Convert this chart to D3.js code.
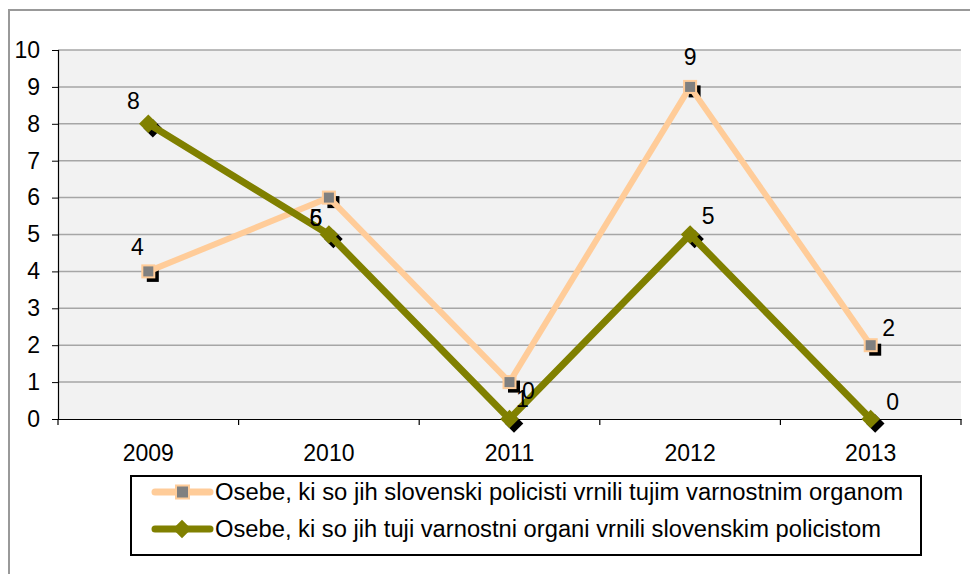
<!DOCTYPE html>
<html><head><meta charset="utf-8">
<script src="https://cdn.jsdelivr.net/npm/d3@7"></script>
<style>body{margin:0;background:#fff}svg{display:block;font-family:"Liberation Sans",Arial,sans-serif}</style>
</head><body><svg id="c" width="970" height="574"></svg>
<script>
const years = ["2009","2010","2011","2012","2013"];
const series1Name = "Osebe, ki so jih slovenski policisti vrnili tujim varnostnim organom";
const series1 = [4, 6, 1, 9, 2];
const series2Name = "Osebe, ki so jih tuji varnostni organi vrnili slovenskim policistom";
const series2 = [8, 5, 0, 5, 0];
const yTicks = [0,1,2,3,4,5,6,7,8,9,10];
// label placement (style) per point: [dx, dy]
const label1Off = [[-11,-24],[-13,20],[13,17],[0,-30],[18,-17]];
const label2Off = [[-15,-23],[-13,-17],[19,-28],[18,-19],[22,-17]];

const FS = 23;
const svg = d3.select("#c");
const L = 58, R = 961, T = 50, B = 419;
const x = d3.scaleBand().domain(years).range([L, R]);
const y = d3.scaleLinear().domain([0, 10]).range([B, T]);
const cx = d => x(d) + x.bandwidth()/2;

// outer chart border
svg.append("rect").attr("x",9).attr("y",10).attr("width",1000).attr("height",600)
  .attr("fill","none").attr("stroke","#999").attr("stroke-width",2);

// plot background
svg.append("rect").attr("x",L).attr("y",T).attr("width",R-L).attr("height",B-T).attr("fill","#f2f2f2");

// gridlines
svg.append("g").selectAll("line").data(yTicks.filter(v=>v>0)).join("line")
  .attr("x1",L).attr("x2",R).attr("y1",d=>y(d)).attr("y2",d=>y(d))
  .attr("stroke","#a6a6a6").attr("stroke-width",1.5);

// y axis
const ya = svg.append("g").attr("transform",`translate(${L},0)`)
  .call(d3.axisLeft(y).tickValues(yTicks).tickSize(6).tickPadding(12).tickFormat(d3.format("d")));
ya.select(".domain").attr("stroke","#000").attr("stroke-width",1.2);
ya.selectAll(".tick line").attr("stroke","#000");
ya.selectAll("text").attr("font-size",FS).attr("fill","#000").attr("font-family","Liberation Sans, Arial, sans-serif");

// x axis
const xa = svg.append("g").attr("transform",`translate(0,${B})`)
  .call(d3.axisBottom(x).tickSize(0).tickPadding(26));
xa.select(".domain").attr("stroke","#000").attr("stroke-width",1.2);
xa.selectAll("text").attr("font-size",FS).attr("fill","#000").attr("font-family","Liberation Sans, Arial, sans-serif");
const bounds = years.map(d=>x(d)).concat([R]);
xa.selectAll(".bt").data(bounds).join("line").attr("class","bt")
  .attr("x1",d=>d).attr("x2",d=>d).attr("y1",0).attr("y2",6).attr("stroke","#000").attr("stroke-width",1.2);

const line = d3.line().x((d,i)=>cx(years[i])).y(d=>y(d));
const c1 = "#ffcc99", c2 = "#808000";

// shadows of markers
const sh = 4.5;
svg.append("g").selectAll("rect").data(series1).join("rect")
  .attr("x",(d,i)=>cx(years[i])-6+sh).attr("y",d=>y(d)-6+sh).attr("width",12).attr("height",12).attr("fill","#000");
const diamond = d3.symbol().type(d3.symbolDiamond2).size(220);
svg.append("g").selectAll("path").data(series2).join("path")
  .attr("d",diamond).attr("transform",(d,i)=>`translate(${cx(years[i])+sh},${y(d)+sh})`).attr("fill","#000");

// lines
svg.append("path").datum(series1).attr("d",line).attr("fill","none").attr("stroke",c1).attr("stroke-width",6).attr("stroke-linejoin","round");
svg.append("path").datum(series2).attr("d",line).attr("fill","none").attr("stroke",c2).attr("stroke-width",7).attr("stroke-linejoin","round");

// markers
svg.append("g").selectAll("rect").data(series1).join("rect")
  .attr("x",(d,i)=>cx(years[i])-6).attr("y",d=>y(d)-6).attr("width",12).attr("height",12)
  .attr("fill","#808080").attr("stroke",c1).attr("stroke-width",2);
svg.append("g").selectAll("path").data(series2).join("path")
  .attr("d",diamond).attr("transform",(d,i)=>`translate(${cx(years[i])},${y(d)})`).attr("fill",c2);

// data labels
const lab = (data, off) => svg.append("g").selectAll("text").data(data).join("text")
  .attr("x",(d,i)=>cx(years[i])+off[i][0]).attr("y",(d,i)=>y(d)+off[i][1])
  .attr("text-anchor","middle").attr("dominant-baseline","central")
  .attr("font-size",FS).attr("fill","#000").text(d=>d);
lab(series1, label1Off);
lab(series2, label2Off);

// legend
const lg = svg.append("g");
lg.append("rect").attr("x",131).attr("y",476).attr("width",790).attr("height",79)
  .attr("fill","#fff").attr("stroke","#000").attr("stroke-width",2);
const items = [{name:series1Name,c:c1,t:"sq"},{name:series2Name,c:c2,t:"di"}];
const lens = [688, 666];
items.forEach((it,k)=>{
  const yy = 492 + k*37;
  lg.append("line").attr("x1",155).attr("x2",210).attr("y1",yy).attr("y2",yy)
    .attr("stroke",it.c).attr("stroke-width",7).attr("stroke-linecap","round");
  if(it.t==="sq"){
    lg.append("rect").attr("x",176).attr("y",yy-6.5).attr("width",13).attr("height",13)
      .attr("fill","#808080").attr("stroke",c1).attr("stroke-width",2);
  } else {
    lg.append("path").attr("d",diamond).attr("transform",`translate(182,${yy})`).attr("fill",c2);
  }
  lg.append("text").attr("x",215).attr("y",yy).attr("dominant-baseline","central")
    .attr("font-size",FS).attr("fill","#000")
    .attr("textLength",lens[k]).attr("lengthAdjust","spacingAndGlyphs").text(it.name);
});
</script></body></html>
